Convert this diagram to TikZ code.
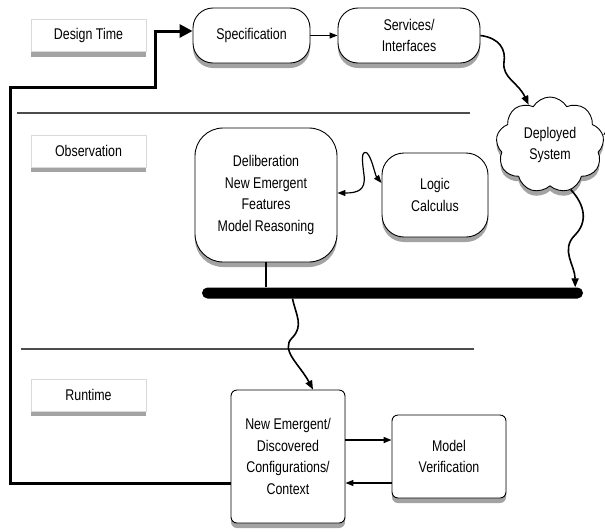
\documentclass[tikz,border=0pt]{standalone}
\usepackage{fontspec}
\setmainfont{Liberation Sans}[FakeStretch=0.8]
\usetikzlibrary{shapes.symbols,shadows,arrows.meta,calc}
\tikzset{
  txt/.style={font=\fontsize{15.5}{21.5}\selectfont, align=center, text=black},
  shad/.style={drop shadow={shadow xshift=0pt, shadow yshift=-5pt, opacity=.45, fill=black!80}},
  lbl/.style={txt, draw=black!15, fill=white, minimum width=115, minimum height=32, inner sep=0, shad},
  rbox/.style={txt, draw=black, line width=0.9pt, fill=white, inner sep=0, shad},
  sqbox/.style={rbox, rounded corners=6pt},
  sep/.style={draw=black!70, line width=1.4pt},
  thickline/.style={line width=3pt, line join=miter},
  conn/.style={line width=1.2pt, -{Triangle[length=8pt,width=6pt]}},
  wavy/.style={line width=1.6pt, -{Triangle[length=9pt,width=7pt]}}
}
\begin{document}
\begin{tikzpicture}[x=1pt,y=-1pt]
\useasboundingbox (0,0) rectangle (605,531);
\fill[white] (0,0) rectangle (605,531);

% separators
\coordinate (s1a) at (17,113); \coordinate (s1b) at (470,113);
\coordinate (s2a) at (21,349); \coordinate (s2b) at (474,349);
\draw[sep] (s1a) -- (s1b);
\draw[sep] (s2a) -- (s2b);

% phase labels
\node[lbl] (dt) at (88.5,35.5) {Design Time};
\node[lbl] (obs) at (88.5,151) {Observation};
\node[lbl] (rt) at (88.5,395) {Runtime};

% design-time boxes
\node[rbox, rounded corners=20pt, minimum width=117, minimum height=55] (spec) at (251.5,35.5) {Specification};
\node[rbox, rounded corners=20pt, minimum width=142, minimum height=55] (serv) at (409,35.5) {Services/\\Interfaces};

% observation boxes
\node[rbox, rounded corners=28pt, minimum width=142, minimum height=134] (delib) at (266,195) {Deliberation\\New Emergent\\Features\\Model Reasoning};
\node[rbox, rounded corners=22pt, minimum width=106, minimum height=84] (logic) at (435,195) {Logic\\Calculus};
\node[txt, cloud, cloud puffs=9, cloud puff arc=120, draw=black, line width=0.9pt, fill=white,
      minimum width=108, minimum height=96, inner sep=0, shad] (cloud) at (550,145) {Deployed\\System};

% bus
\node[fill=black, minimum width=381, minimum height=11, rounded corners=5.5pt, inner sep=0] (bus) at (392.5,293) {};

% runtime boxes
\node[sqbox, minimum width=114, minimum height=133] (ctx) at (288,456.5) {New Emergent/\\Discovered\\Configurations/\\Context};
\node[sqbox, minimum width=114, minimum height=83] (mv) at (449,456.5) {Model\\Verification};

% connectors
\draw[thickline, -{Triangle[length=13pt,width=13pt]}]
  ([yshift=-26.5pt]ctx.west) -- (10,483) -- (10,87) -- (155,87) -- (155,31) -- ([yshift=4.5pt]spec.west);
\draw[conn] (spec) -- (serv);
\draw[wavy] (serv.east) .. controls (500,38) and (506,50) .. (504,62)
  .. controls (502,78) and (518,82) .. (cloud.118);
\draw[wavy] (cloud.-65) .. controls (585,205) and (588,222) .. (575,235)
  .. controls (560,250) and (575,265) .. ([xshift=-8pt]bus.north east);
\draw[line width=2pt] (delib.south) -- (delib.south |- bus.north);
\draw[wavy] ([xshift=-100pt]bus.south) .. controls (296,315) and (304,326) .. (292,338)
  .. controls (280,350) and (300,365) .. ([xshift=25pt]ctx.north);
\draw[line width=1.2pt, {Triangle[length=8pt,width=6pt]}-{Triangle[length=8pt,width=6pt]}]
  ([yshift=2pt]delib.east) .. controls (358,193) and (366,190) .. (364,175)
  .. controls (362,160) and (361,150) .. (367,153)
  .. controls (372,158) and (375,175) .. ([yshift=12pt]logic.west);
\draw[conn, line width=1.6pt] ([yshift=16.5pt]ctx.east) -- ([yshift=16.5pt]mv.west);
\draw[conn] ([yshift=-26.5pt]mv.west) -- ([yshift=-26.5pt]ctx.east);
\coordinate (offR) at (612,128);
\draw[conn] (offR) -- ([yshift=10pt]cloud.east);
\end{tikzpicture}
\end{document}
